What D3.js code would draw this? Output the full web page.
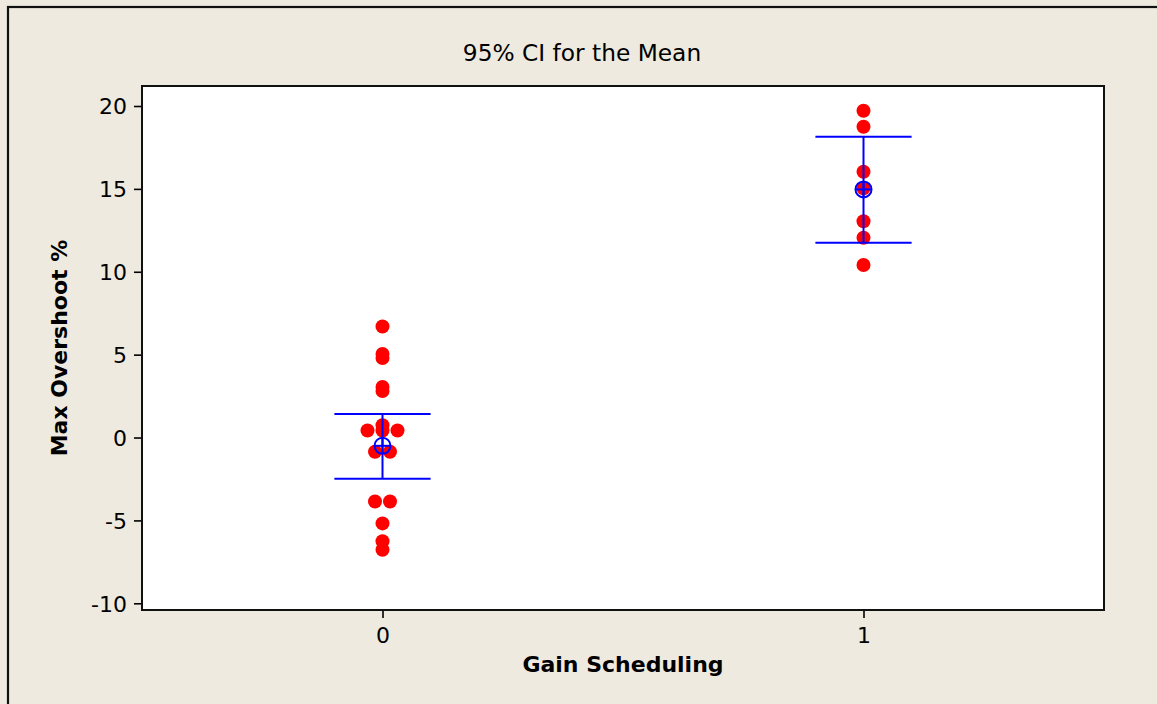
<!DOCTYPE html>
<html>
<head>
<meta charset="utf-8">
<script src="https://cdn.jsdelivr.net/npm/d3@7"></script>
<style>
  html, body { margin: 0; padding: 0; background: #EEEAE0; }
  svg { display: block; }
  text { font-family: "DejaVu Sans", Verdana, sans-serif; fill: #000; }
</style>
</head>
<body>
<svg id="chart" width="1157" height="704"></svg>
<script>
// Max overshoot (%) per run, split by gain scheduling off (0) / on (1)
const groups = [0, 1];
const overshootOff = [6.70, 5.04, 4.80, 3.05, 2.81, 0.74, 0.42, 0.42, 0.42,
                      -0.86, -0.86, -3.86, -3.86, -5.18, -6.26, -6.77];
const overshootOn = [19.71, 18.75, 16.03, 15.03, 13.05, 12.05, 10.41];
// Group means and 95% confidence limits
const means = [-0.50, 14.97];
const ciLower = [-2.48, 11.75];
const ciUpper = [1.42, 18.15];
const yTicks = [-10, -5, 0, 5, 10, 15, 20];

const title = "95% CI for the Mean";
const xLabel = "Gain Scheduling";
const yLabel = "Max Overshoot %";

const W = 1157, H = 704;
const plot = { left: 142, top: 86, right: 1104, bottom: 610 };

const svg = d3.select("#chart");

// outer frame
svg.append("rect")
  .attr("x", 8).attr("y", 7)
  .attr("width", W + 20).attr("height", H + 20)
  .attr("fill", "#EEEAE0")
  .attr("stroke", "#111").attr("stroke-width", 2.2);

const x = d3.scaleLinear().domain([-0.5, 1.5]).range([plot.left, plot.right]);
const y = d3.scaleLinear().domain([-10, 20]).range([603.3, 106]);

// plot area
svg.append("rect")
  .attr("x", plot.left).attr("y", plot.top)
  .attr("width", plot.right - plot.left).attr("height", plot.bottom - plot.top)
  .attr("fill", "#fff");

// plain hyphen for negative tick values
const fmt = d => String(d);

// y axis
const yAxis = svg.append("g")
  .attr("transform", `translate(${plot.left},0)`)
  .call(d3.axisLeft(y).tickValues(yTicks).tickSize(8).tickPadding(7)
    .tickFormat(fmt));
yAxis.select(".domain").remove();
yAxis.selectAll(".tick line").attr("stroke", "#000").attr("stroke-width", 1.6);
yAxis.selectAll(".tick text")
  .attr("font-family", "DejaVu Sans, Verdana, sans-serif")
  .attr("font-size", 22).attr("fill", "#000")
  .attr("dy", "0.36em");

// x axis
const xAxis = svg.append("g")
  .attr("transform", `translate(0,${plot.bottom})`)
  .call(d3.axisBottom(x).tickValues(groups).tickSize(8)
    .tickFormat(fmt));
xAxis.select(".domain").remove();
xAxis.selectAll(".tick line").attr("stroke", "#000").attr("stroke-width", 1.6);
xAxis.selectAll(".tick text")
  .attr("font-family", "DejaVu Sans, Verdana, sans-serif")
  .attr("font-size", 22).attr("fill", "#000")
  .attr("y", 33).attr("dy", 0);

// plot border
svg.append("rect")
  .attr("x", plot.left).attr("y", plot.top)
  .attr("width", plot.right - plot.left).attr("height", plot.bottom - plot.top)
  .attr("fill", "none").attr("stroke", "#111").attr("stroke-width", 2);

// individual observations; tied values are placed side by side
const dotR = 7;
const spacing = 15;
function spread(values, g) {
  const counts = d3.rollup(values, v => v.length, v => v);
  const seen = new Map();
  return values.map(v => {
    const n = counts.get(v);
    const i = seen.get(v) || 0;
    seen.set(v, i + 1);
    return { g, v, dx: (i - (n - 1) / 2) * spacing };
  });
}
const points = spread(overshootOff, 0).concat(spread(overshootOn, 1));

svg.append("g").selectAll("circle")
  .data(points)
  .join("circle")
  .attr("cx", d => x(d.g) + d.dx)
  .attr("cy", d => y(d.v))
  .attr("r", dotR)
  .attr("fill", "#FF0000");

// confidence intervals
const blue = "#0000FF";
const capHalf = 0.1;
const ci = svg.append("g").attr("stroke", blue).attr("stroke-width", 2).attr("fill", "none");
groups.forEach((g, i) => {
  ci.append("line")
    .attr("x1", x(g)).attr("x2", x(g))
    .attr("y1", y(ciLower[i])).attr("y2", y(ciUpper[i]));
  [ciLower[i], ciUpper[i]].forEach(v => {
    ci.append("line")
      .attr("x1", x(g - capHalf)).attr("x2", x(g + capHalf))
      .attr("y1", y(v)).attr("y2", y(v));
  });
  // mean symbol: circle with cross
  const mx = x(g), my = y(means[i]), r = 8;
  ci.append("circle").attr("cx", mx).attr("cy", my).attr("r", r);
  ci.append("line").attr("x1", mx - r).attr("x2", mx + r).attr("y1", my).attr("y2", my);
  ci.append("line").attr("x1", mx).attr("x2", mx).attr("y1", my - r).attr("y2", my + r);
});

// title and axis labels
svg.append("text")
  .attr("x", 582).attr("y", 61)
  .attr("text-anchor", "middle")
  .attr("font-size", 23.3)
  .text(title);

svg.append("text")
  .attr("x", (plot.left + plot.right) / 2).attr("y", 672)
  .attr("text-anchor", "middle")
  .attr("font-size", 22).attr("font-weight", "bold")
  .text(xLabel);

svg.append("text")
  .attr("transform", `translate(67,${(plot.top + plot.bottom) / 2}) rotate(-90)`)
  .attr("text-anchor", "middle")
  .attr("font-size", 22).attr("font-weight", "bold")
  .text(yLabel);
</script>
</body>
</html>
